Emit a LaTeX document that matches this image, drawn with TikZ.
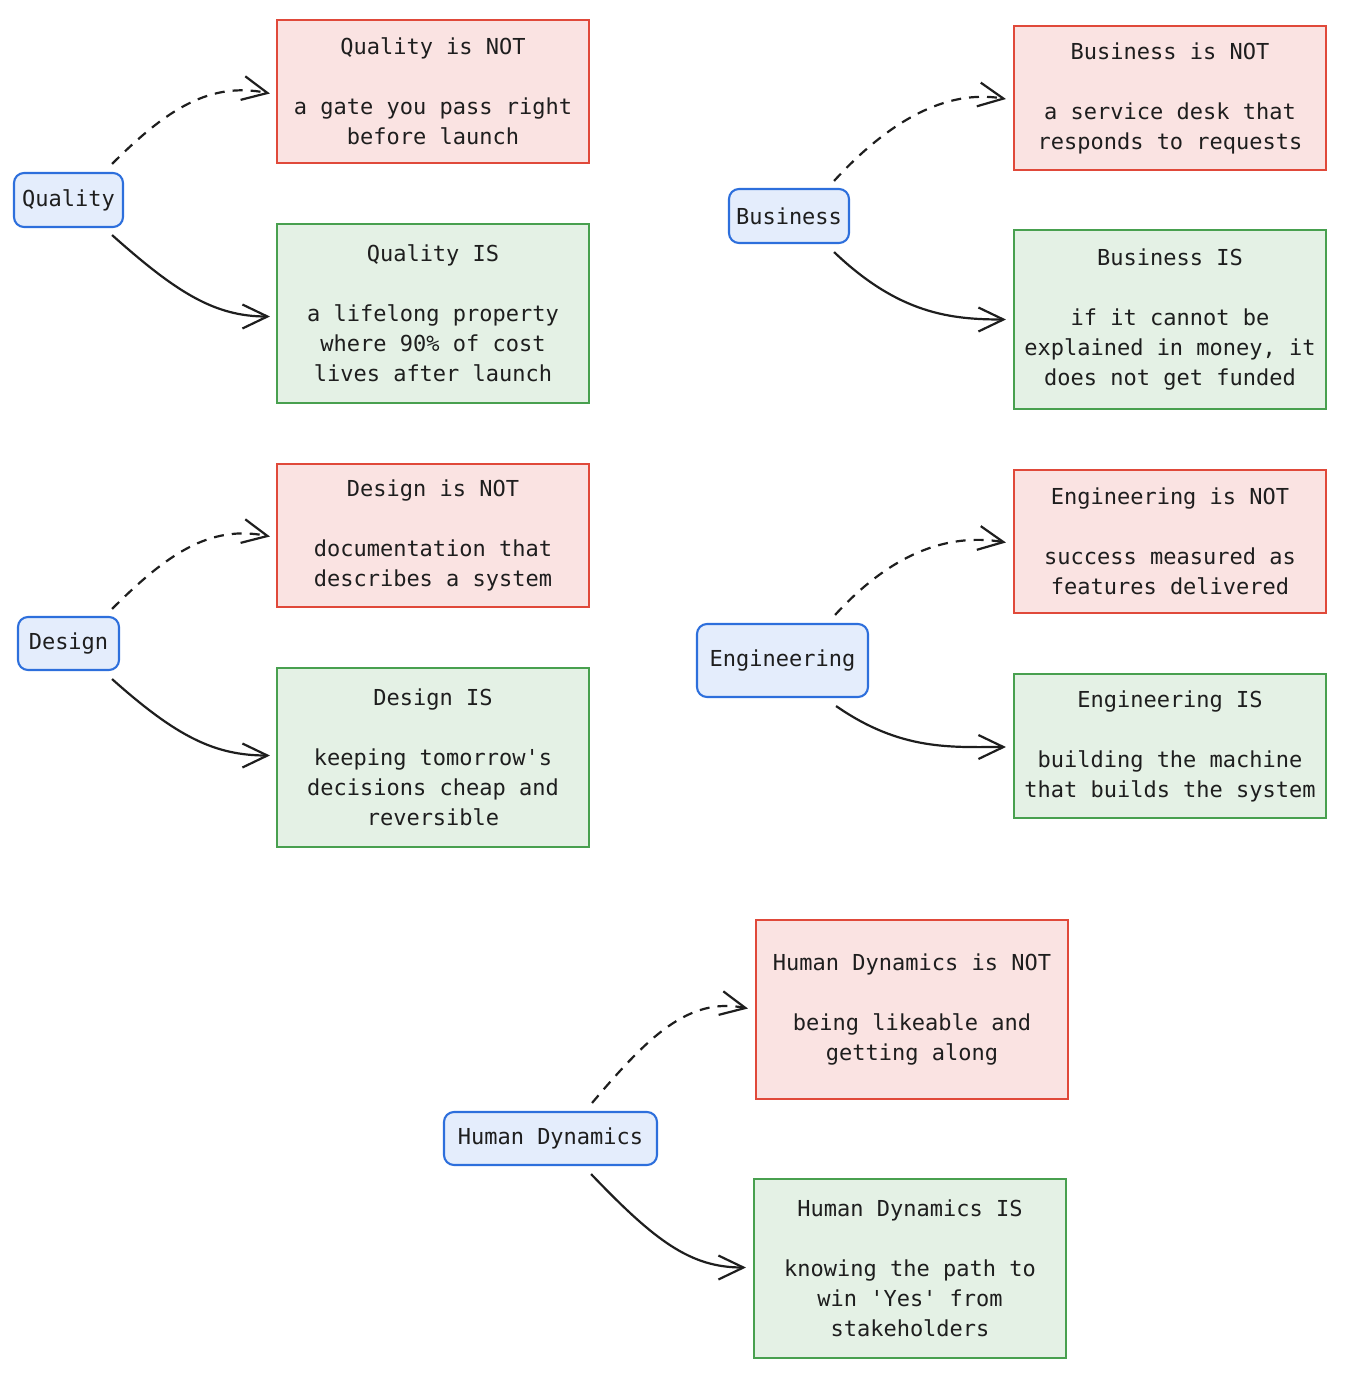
\documentclass[tikz,border=0pt]{standalone}
\usepackage{fontspec}
\setmonofont{DejaVu Sans Mono}
\usetikzlibrary{arrows.meta}
\definecolor{notfill}{HTML}{FAE3E2}
\definecolor{notdraw}{HTML}{E0493A}
\definecolor{isfill}{HTML}{E4F1E5}
\definecolor{isdraw}{HTML}{48A04F}
\definecolor{topfill}{HTML}{E4EDFC}
\definecolor{topdraw}{HTML}{2D6FDC}
\definecolor{ink}{HTML}{1E1E1E}
\begin{document}
\begin{tikzpicture}[x=1pt,y=-1pt,
  every node/.style={font=\ttfamily\fontsize{22}{30}\selectfont, text=ink, align=center, inner sep=0pt},
  notbox/.style={draw=notdraw, fill=notfill, line width=2.1pt, minimum width=312pt},
  isbox/.style={draw=isdraw, fill=isfill, line width=2.1pt, minimum width=312pt},
  topic/.style={draw=topdraw, fill=topfill, line width=2.1pt, rounded corners=10pt},
  link/.style={draw=ink, line width=2.2pt, -{Straight Barb[length=25pt,width=24pt,line width=2.2pt]}},
  dlink/.style={link, dash pattern=on 10pt off 8pt}
]
\useasboundingbox (0,0) rectangle (1348,1374);

% Quality
\node[topic, minimum width=109pt, minimum height=54pt] (q) at (68.5,200) {Quality};
\node[notbox, minimum height=143pt] (qn) at (433,91.5) {Quality is NOT\\[30pt]a gate you pass right\\before launch};
\node[isbox, minimum height=179pt] (qi) at (433,313.5) {Quality IS\\[30pt]a lifelong property\\where 90\% of cost\\lives after launch};
\draw[dlink] ([xshift=-12pt,yshift=8pt]q.north east) .. controls +(55,-55) and +(-60,-12) .. ([xshift=-6pt,yshift=-2pt]qn.west);
\draw[link] ([xshift=-12pt,yshift=-7pt]q.south east) .. controls +(65,58) and +(-55,0) .. ([xshift=-6pt,yshift=-3pt]qi.west);

% Business
\node[topic, minimum width=120pt, minimum height=54pt] (b) at (789,216) {Business};
\node[notbox, minimum height=144pt] (bn) at (1170,98) {Business is NOT\\[30pt]a service desk that\\responds to requests};
\node[isbox, minimum height=179pt] (bi) at (1170,319.5) {Business IS\\[30pt]if it cannot be\\explained in money, it\\does not get funded};
\draw[dlink] ([xshift=-16pt,yshift=7pt]b.north east) .. controls +(55,-60) and +(-60,-10) .. ([xshift=-7pt,yshift=-1pt]bn.west);
\draw[link] ([xshift=-16pt,yshift=-8pt]b.south east) .. controls +(65,62) and +(-55,0) .. ([xshift=-7pt,yshift=0pt]bi.west);

% Design
\node[topic, minimum width=101pt, minimum height=53pt] (d) at (68.5,643.5) {Design};
\node[notbox, minimum height=143pt] (dn) at (433,535.5) {Design is NOT\\[30pt]documentation that\\describes a system};
\node[isbox, minimum height=179pt] (di) at (433,757.5) {Design IS\\[30pt]keeping tomorrow's\\decisions cheap and\\reversible};
\draw[dlink] ([xshift=-8pt,yshift=7pt]d.north east) .. controls +(55,-55) and +(-60,-12) .. ([xshift=-6pt,yshift=-1pt]dn.west);
\draw[link] ([xshift=-8pt,yshift=-8pt]d.south east) .. controls +(65,58) and +(-55,0) .. ([xshift=-6pt,yshift=2pt]di.west);

% Engineering
\node[topic, minimum width=171pt, minimum height=73pt] (e) at (782.5,660.5) {Engineering};
\node[notbox, minimum height=143pt] (en) at (1170,541.5) {Engineering is NOT\\[30pt]success measured as\\features delivered};
\node[isbox, minimum height=144pt] (ei) at (1170,746) {Engineering IS\\[30pt]building the machine\\that builds the system};
\draw[dlink] ([xshift=-34pt,yshift=8pt]e.north east) .. controls +(55,-60) and +(-60,-10) .. ([xshift=-7pt,yshift=-1pt]en.west);
\draw[link] ([xshift=-33pt,yshift=-8pt]e.south east) .. controls +(65,45) and +(-55,0) .. ([xshift=-7pt,yshift=-1pt]ei.west);

% Human Dynamics
\node[topic, minimum width=213pt, minimum height=53pt] (h) at (550.5,1138.5) {Human Dynamics};
\node[notbox, minimum height=179pt] (hn) at (912,1009.5) {Human Dynamics is NOT\\[30pt]being likeable and\\getting along};
\node[isbox, minimum height=179pt] (hi) at (910,1268.5) {Human Dynamics IS\\[30pt]knowing the path to\\win 'Yes' from\\stakeholders};
\draw[dlink] ([xshift=-66pt,yshift=8pt]h.north east) .. controls +(55,-65) and +(-60,-12) .. ([xshift=-7pt,yshift=1pt]hn.west);
\draw[link] ([xshift=-67pt,yshift=-8pt]h.south east) .. controls +(65,68) and +(-55,0) .. ([xshift=-7pt,yshift=1pt]hi.west);
\end{tikzpicture}
\end{document}
